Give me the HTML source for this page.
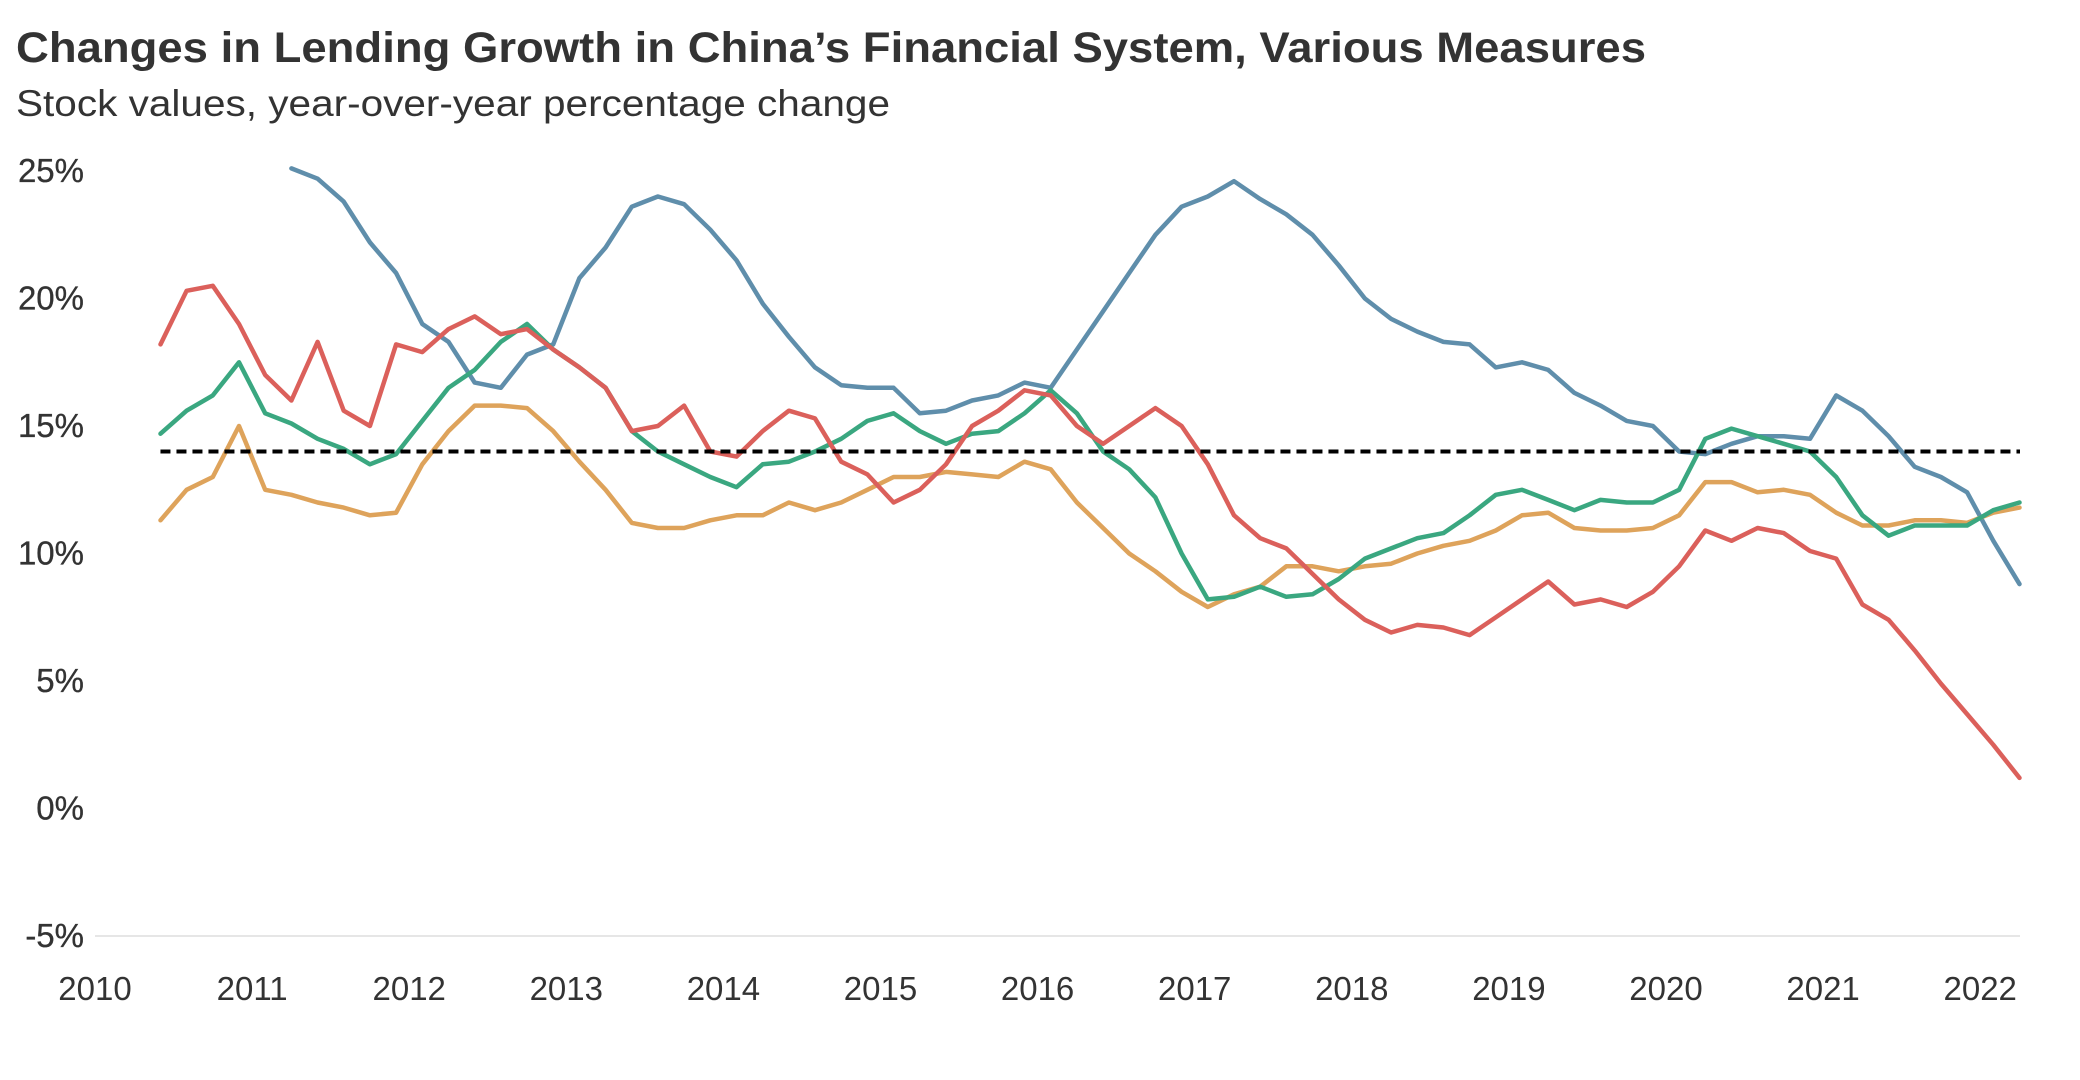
<!DOCTYPE html>
<html><head><meta charset="utf-8"><style>
html,body{margin:0;padding:0;background:#fff;}
svg{display:block;font-family:"Liberation Sans",sans-serif;}
</style></head><body>
<svg id="chart" width="2080" height="1080" viewBox="0 0 2080 1080">
<text x="16" y="62" font-size="43" font-weight="bold" fill="#333" textLength="1630" lengthAdjust="spacingAndGlyphs">Changes in Lending Growth in China’s Financial System, Various Measures</text>
<text x="16" y="116" font-size="37" fill="#333" textLength="874" lengthAdjust="spacingAndGlyphs">Stock values, year-over-year percentage change</text>
<g id="grid"></g><g id="axes"></g><g id="lines"></g>
</svg>
<script>
const yTicks = [25, 20, 15, 10, 5, 0, -5];
const xTicks = [2010,2011,2012,2013,2014,2015,2016,2017,2018,2019,2020,2021,2022];
const startDate = 2010.4167;
const stepYears = 1/6;
const refValue = 14;
const redValues = [18.2,20.3,20.5,19.0, 17.0,16.0,18.3,15.6,15.0,18.2, 17.9,18.8,19.3,18.6,18.8,18.0, 17.3,16.5,14.8,15.0,15.8,14.0, 13.8,14.8,15.6,15.3,13.6,13.1, 12.0,12.5,13.5,15.0,15.6,16.4, 16.2,15.0,14.3,15.0,15.7,15.0, 13.5,11.5,10.6,10.2,9.2,8.2, 7.4,6.9,7.2,7.1,6.8,7.5, 8.2,8.9,8.0,8.2,7.9,8.5, 9.5,10.9,10.5,11.0,10.8,10.1, 9.8,8.0,7.4,6.2,4.9,3.7, 2.5,1.2];
const greenValues = [14.7,15.6,16.2,17.5, 15.5,15.1,14.5,14.1,13.5,13.9, 15.2,16.5,17.2,18.3,19.0,18.0, 17.3,16.5,14.8,14.0,13.5,13.0, 12.6,13.5,13.6,14.0,14.5,15.2, 15.5,14.8,14.3,14.7,14.8,15.5, 16.4,15.5,14.0,13.3,12.2,10.0, 8.2,8.3,8.7,8.3,8.4,9.0, 9.8,10.2,10.6,10.8,11.5,12.3, 12.5,12.1,11.7,12.1,12.0,12.0, 12.5,14.5,14.9,14.6,14.3,14.0, 13.0,11.5,10.7,11.1,11.1,11.1, 11.7,12.0];
const orangeValues = [11.3,12.5,13.0,15.0, 12.5,12.3,12.0,11.8,11.5,11.6, 13.5,14.8,15.8,15.8,15.7,14.8, 13.6,12.5,11.2,11.0,11.0,11.3, 11.5,11.5,12.0,11.7,12.0,12.5, 13.0,13.0,13.2,13.1,13.0,13.6, 13.3,12.0,11.0,10.0,9.3,8.5, 7.9,8.4,8.7,9.5,9.5,9.3, 9.5,9.6,10.0,10.3,10.5,10.9, 11.5,11.6,11.0,10.9,10.9,11.0, 11.5,12.8,12.8,12.4,12.5,12.3, 11.6,11.1,11.1,11.3,11.3,11.2, 11.6,11.8];
const blueValues = [null,null,null,null, null,25.1,24.7,23.8,22.2,21.0, 19.0,18.3,16.7,16.5,17.8,18.2, 20.8,22.0,23.6,24.0,23.7,22.7, 21.5,19.8,18.5,17.3,16.6,16.5, 16.5,15.5,15.6,16.0,16.2,16.7, 16.5,18.0,19.5,21.0,22.5,23.6, 24.0,24.6,23.9,23.3,22.5,21.3, 20.0,19.2,18.7,18.3,18.2,17.3, 17.5,17.2,16.3,15.8,15.2,15.0, 14.0,13.9,14.3,14.6,14.6,14.5, 16.2,15.6,14.6,13.4,13.0,12.4, 10.5,8.8];

const NS = "http://www.w3.org/2000/svg";
const xScale = t => 95 + (t - 2010) * 157.1;
const yScale = v => 171 + (25 - v) * 25.5;
const grid = document.getElementById('grid'), axes = document.getElementById('axes'), lines = document.getElementById('lines');

const base = document.createElementNS(NS, 'line');


base.setAttribute('x1', 95); base.setAttribute('x2', 2020);
base.setAttribute('y1', yScale(-5)); base.setAttribute('y2', yScale(-5));
base.setAttribute('stroke', '#e6e6e6'); base.setAttribute('stroke-width', 2);
grid.appendChild(base);

yTicks.forEach(v => {
  const t = document.createElementNS(NS, 'text');
  
  
  t.setAttribute('x', 84);
  t.setAttribute('y', yScale(v) + 11);
  t.setAttribute('text-anchor', 'end');
  t.setAttribute('font-size', 33); t.setAttribute('fill', '#333');
  t.setAttribute('stroke', '#333'); t.setAttribute('stroke-width', 0.3);
  t.textContent = v + '%';
  axes.appendChild(t);
});
xTicks.forEach(yr => {
  const t = document.createElementNS(NS, 'text');
  
  
  t.setAttribute('x', xScale(yr)); t.setAttribute('y', 1000);
  t.setAttribute('text-anchor', 'middle');
  t.setAttribute('font-size', 33); t.setAttribute('fill', '#333');
  t.textContent = yr;
  axes.appendChild(t);
});

function drawSeries(vals, color, name) {
  let d = '', pen = false;
  vals.forEach((v, i) => {
    if (v === null) { pen = false; return; }
    const x = xScale(startDate + i * stepYears), y = yScale(v);
    d += (pen ? 'L' : 'M') + x.toFixed(1) + ',' + y.toFixed(1);
    pen = true;
  });
  const p = document.createElementNS(NS, 'path');
  
  
  p.setAttribute('d', d); p.setAttribute('fill', 'none');
  p.setAttribute('stroke', color); p.setAttribute('stroke-width', 4.5);
  p.setAttribute('stroke-linejoin', 'round'); p.setAttribute('stroke-linecap', 'round');
  lines.appendChild(p);
}
drawSeries(blueValues, '#5f8eab', 'blue-series-line');
drawSeries(orangeValues, '#dea35b', 'orange-series-line');
drawSeries(greenValues, '#3aa780', 'green-series-line');
drawSeries(redValues, '#db605b', 'red-series-line');

const ref = document.createElementNS(NS, 'line');


ref.setAttribute('x1', xScale(startDate)); ref.setAttribute('x2', 2020);
ref.setAttribute('y1', yScale(refValue)); ref.setAttribute('y2', yScale(refValue));
ref.setAttribute('stroke', '#000'); ref.setAttribute('stroke-width', 4);
ref.setAttribute('stroke-dasharray', '10,6');
lines.appendChild(ref);
</script>
</body></html>
